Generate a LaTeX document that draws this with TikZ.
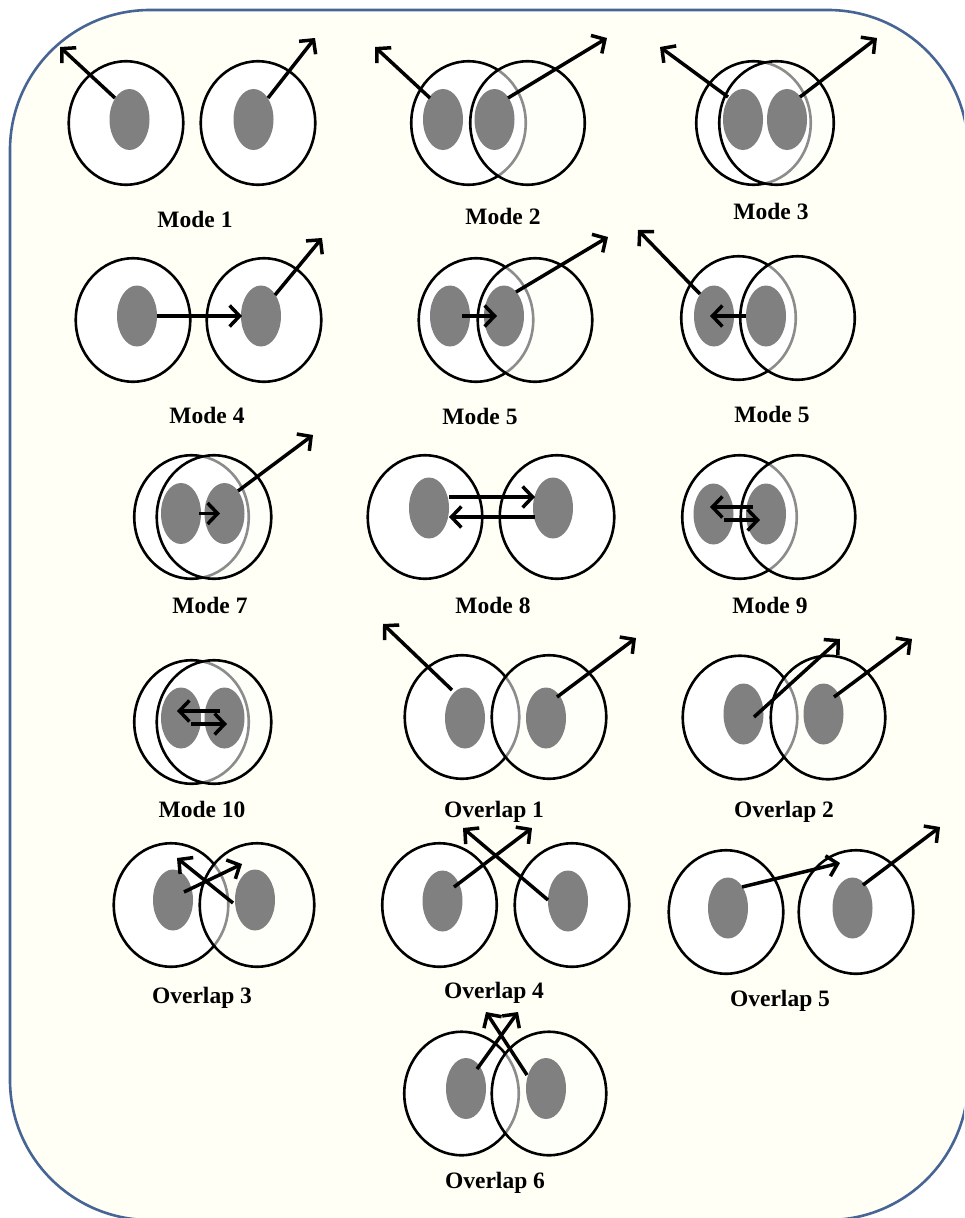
\documentclass[tikz,border=0pt]{standalone}
\usepackage{fontspec}
\setmainfont{Liberation Serif}
\usetikzlibrary{arrows.meta,shapes.geometric}
\definecolor{bgcream}{RGB}{255,255,245}
\definecolor{bordblue}{RGB}{70,100,148}
\definecolor{nucgray}{RGB}{128,128,128}
\begin{document}
\begin{tikzpicture}[x=1pt,y=-1pt,
  cell/.style={ellipse, draw=black, line width=2.6pt, fill=white, minimum width=114.5pt, minimum height=123.5pt, inner sep=0pt},
  celltr/.style={cell, fill opacity=0.55},
  nuc/.style={ellipse, fill=nucgray, minimum width=40pt, minimum height=61pt, inner sep=0pt},
  arr/.style={draw=black, line width=3.5pt, -{Straight Barb[length=10pt,width=21pt,line width=3.5pt]}},
  lab/.style={font=\fontsize{23.5}{25}\selectfont\bfseries, anchor=base, inner sep=0pt}]
\useasboundingbox (0,0) rectangle (964,1218);
\clip (0,0) rectangle (964,1218);
\draw[draw=bordblue, line width=2.6pt, fill=bgcream, rounded corners=140pt] (10,10) rectangle (968,1220);

% Mode 1
\node[cell] (m1a) at (126,123) {};
\node[cell] (m1b) at (258,123) {};
\node[nuc] (m1n1) at (129.5,119.5) {};
\node[nuc] (m1n2) at (253.5,119.5) {};
\coordinate (m1t1) at (60,47);
\coordinate (m1t2) at (315,38);
\draw[arr] ([shift={(-14.5,-21.5)}]m1n1.center) -- (m1t1);
\draw[arr] ([shift={(14.5,-21.5)}]m1n2.center) -- (m1t2);
\node[lab] (l1) at (195,227) {Mode 1};

% Mode 2
\node[cell] (m2a) at (468.5,123) {};
\node[celltr] (m2b) at (527.5,123) {};
\node[nuc] (m2n1) at (443,119.5) {};
\node[nuc] (m2n2) at (494.5,119.5) {};
\coordinate (m2t1) at (375,47);
\coordinate (m2t2) at (607,38);
\draw[arr] ([shift={(-13,-21.5)}]m2n1.center) -- (m2t1);
\draw[arr] ([shift={(13.5,-21.5)}]m2n2.center) -- (m2t2);
\node[lab] (l2) at (503,224) {Mode 2};

% Mode 3
\node[cell] (m3a) at (753.5,123) {};
\node[celltr] (m3b) at (776.5,123) {};
\node[nuc] (m3n1) at (743,119.5) {};
\node[nuc] (m3n2) at (787,119.5) {};
\coordinate (m3t1) at (660,47);
\coordinate (m3t2) at (877,38);
\draw[arr] ([shift={(-15,-22.5)}]m3n1.center) -- (m3t1);
\draw[arr] ([shift={(13,-22.5)}]m3n2.center) -- (m3t2);
\node[lab] (l3) at (771,219) {Mode 3};

% Mode 4
\node[cell] (m4a) at (133,320) {};
\node[cell] (m4b) at (264,320) {};
\node[nuc] (m4n1) at (137,316) {};
\node[nuc] (m4n2) at (261,316) {};
\coordinate (m4t2) at (322,238);
\draw[arr] ([shift={(20,0)}]m4n1.center) -- ([shift={(-19,0)}]m4n2.center);
\draw[arr] ([shift={(14,-21)}]m4n2.center) -- (m4t2);
\node[lab] (l4) at (207,423) {Mode 4};

% Mode 5 (middle)
\node[cell] (m5a) at (476,320) {};
\node[celltr] (m5b) at (535,320) {};
\node[nuc] (m5n1) at (450,316) {};
\node[nuc] (m5n2) at (504,316) {};
\coordinate (m5t2) at (608,237);
\draw[arr] ([shift={(12,0)}]m5n1.center) -- ([shift={(-7,0)}]m5n2.center);
\draw[arr] ([shift={(12,-24)}]m5n2.center) -- (m5t2);
\node[lab] (l5) at (480,424) {Mode 5};

% Mode 5 (right)
\node[cell] (m6a) at (738.5,318) {};
\node[celltr] (m6b) at (797.5,318) {};
\node[nuc] (m6n1) at (714,316) {};
\node[nuc] (m6n2) at (766,316) {};
\coordinate (m6t1) at (638,230);
\draw[arr] ([shift={(-20,0)}]m6n2.center) -- ([shift={(-4,0)}]m6n1.center);
\draw[arr] ([shift={(-14,-22)}]m6n1.center) -- (m6t1);
\node[lab] (l6) at (772,422) {Mode 5};

% Mode 7
\node[cell] (m7a) at (191.5,517) {};
\node[celltr] (m7b) at (214,517) {};
\node[nuc] (m7n1) at (181,513.5) {};
\node[nuc] (m7n2) at (224.5,513.5) {};
\coordinate (m7t2) at (313,435);
\draw[arr] ([shift={(18,0)}]m7n1.center) -- ([shift={(-4.5,0)}]m7n2.center);
\draw[arr] ([shift={(13.5,-22.5)}]m7n2.center) -- (m7t2);
\node[lab] (l7) at (210,613) {Mode 7};

% Mode 8
\node[cell] (m8a) at (425,517) {};
\node[cell] (m8b) at (557,517) {};
\node[nuc] (m8n1) at (429,508) {};
\node[nuc] (m8n2) at (553,508) {};
\draw[arr] ([shift={(20,-11)}]m8n1.center) -- ([shift={(-18,-11)}]m8n2.center);
\draw[arr] ([shift={(-18,9)}]m8n2.center) -- ([shift={(20,9)}]m8n1.center);
\node[lab] (l8) at (493,613) {Mode 8};

% Mode 9
\node[cell] (m9a) at (739.5,517) {};
\node[celltr] (m9b) at (798,517) {};
\node[nuc] (m9n1) at (713.5,514) {};
\node[nuc] (m9n2) at (766,514) {};
\draw[arr] ([shift={(-13,-7)}]m9n2.center) -- ([shift={(-3.5,-7)}]m9n1.center);
\draw[arr] ([shift={(10.5,6)}]m9n1.center) -- ([shift={(-6,6)}]m9n2.center);
\node[lab] (l9) at (770,613) {Mode 9};

% Mode 10
\node[cell] (m10a) at (191.5,722) {};
\node[celltr] (m10b) at (214,722) {};
\node[nuc] (m10n1) at (181,718) {};
\node[nuc] (m10n2) at (224.5,718) {};
\draw[arr] ([shift={(-4.5,-7)}]m10n2.center) -- ([shift={(-4,-7)}]m10n1.center);
\draw[arr] ([shift={(10,6)}]m10n1.center) -- ([shift={(2.5,6)}]m10n2.center);
\node[lab] (l10) at (202,817) {Mode 10};

% Overlap 1
\node[cell] (o1a) at (462,717) {};
\node[celltr] (o1b) at (549,717) {};
\node[nuc] (o1n1) at (465,718) {};
\node[nuc] (o1n2) at (546,718) {};
\coordinate (o1t1) at (383,624);
\coordinate (o1t2) at (636,638);
\draw[arr] ([shift={(-13,-28)}]o1n1.center) -- (o1t1);
\draw[arr] ([shift={(11,-21)}]o1n2.center) -- (o1t2);
\node[lab] (lo1) at (494,817) {Overlap 1};

% Overlap 2
\node[cell] (o2a) at (740,717.5) {};
\node[celltr] (o2b) at (828,717.5) {};
\node[nuc] (o2n1) at (743.5,714) {};
\node[nuc] (o2n2) at (823.5,714) {};
\coordinate (o2t1) at (840,639);
\coordinate (o2t2) at (912,639);
\draw[arr] ([shift={(10.5,3)}]o2n1.center) -- (o2t1);
\draw[arr] ([shift={(10.5,-17)}]o2n2.center) -- (o2t2);
\node[lab] (lo2) at (784,817) {Overlap 2};

% Overlap 3
\node[cell] (o3a) at (171,905) {};
\node[celltr] (o3b) at (257,905) {};
\node[nuc] (o3n1) at (173,900) {};
\node[nuc] (o3n2) at (255,900) {};
\coordinate (o3t1) at (242,864);
\coordinate (o3t2) at (177,858);
\draw[arr] ([shift={(11,-8)}]o3n1.center) -- (o3t1);
\draw[arr] ([shift={(-22,3)}]o3n2.center) -- (o3t2);
\node[lab] (lo3) at (202,1003) {Overlap 3};

% Overlap 4
\node[cell] (o4a) at (439.5,905) {};
\node[cell] (o4b) at (572,905) {};
\node[nuc] (o4n1) at (442.5,901) {};
\node[nuc] (o4n2) at (568,901) {};
\coordinate (o4t1) at (532,828);
\coordinate (o4t2) at (463,828);
\draw[arr] ([shift={(11.5,-14)}]o4n1.center) -- (o4t1);
\draw[arr] ([shift={(-20,-1)}]o4n2.center) -- (o4t2);
\node[lab] (lo4) at (494,998) {Overlap 4};

% Overlap 5
\node[cell] (o5a) at (726,912) {};
\node[cell] (o5b) at (856,912) {};
\node[nuc] (o5n1) at (728,908) {};
\node[nuc] (o5n2) at (852.5,908) {};
\coordinate (o5t1) at (840,863);
\coordinate (o5t2) at (940,827);
\draw[arr] ([shift={(14,-21)}]o5n1.center) -- (o5t1);
\draw[arr] ([shift={(10.5,-23)}]o5n2.center) -- (o5t2);
\node[lab] (lo5) at (780,1006) {Overlap 5};

% Overlap 6
\node[cell] (o6a) at (461.5,1093.5) {};
\node[celltr] (o6b) at (549,1093.5) {};
\node[nuc] (o6n1) at (466,1088.5) {};
\node[nuc] (o6n2) at (546,1088.5) {};
\coordinate (o6t1) at (518,1012);
\coordinate (o6t2) at (486,1012);
\draw[arr] ([shift={(11,-19.5)}]o6n1.center) -- (o6t1);
\draw[arr] ([shift={(-19,-13.5)}]o6n2.center) -- (o6t2);
\node[lab] (lo6) at (495,1188) {Overlap 6};
\end{tikzpicture}
\end{document}
